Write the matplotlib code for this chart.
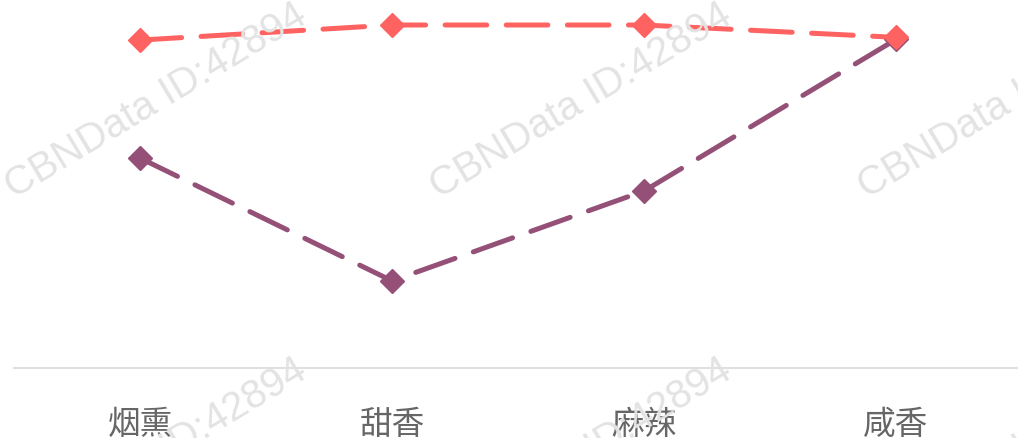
import matplotlib
matplotlib.use("Agg")
import matplotlib.pyplot as plt

plt.rcParams['font.family'] = ['Noto Sans CJK SC', 'DejaVu Sans']
plt.rcParams['lines.scale_dashes'] = False

# data (scale 0-100)
categories = ["烟熏", "甜香", "麻辣", "咸香"]
series_red = [95.6, 100.0, 100.0, 96.4]
series_purple = [61.2, 25.4, 51.6, 95.8]

W, H = 1018, 439
fig = plt.figure(figsize=(W / 100, H / 100), dpi=100)
fig.patch.set_facecolor("white")

# watermark
wm_text = "CBNData ID:42894"
for y0 in [199, 554]:
    for x0 in [14, 439, 867]:
        fig.text(x0 / W, 1 - y0 / H, wm_text, rotation=31, rotation_mode="anchor",
                 ha="left", va="baseline", fontsize=29, color="#e3e3e3",
                 family=["Liberation Sans", "DejaVu Sans"], zorder=0)

ax = fig.add_axes([14 / W, (H - 369) / H, 1008 / W, 343 / H])
ax.set_facecolor("none")
x = list(range(len(categories)))

ax.plot(x, series_purple, color="#955077", lw=3.6, dashes=(30, 14),
        dash_capstyle="round", marker="D", markersize=12, clip_on=False, zorder=3)
ax.plot(x, series_red, color="#ff6361", lw=3.6, dashes=(30, 14),
        dash_capstyle="round", marker="D", markersize=12, clip_on=False, zorder=4)

ax.set_xlim(-0.5, 3.5)
ax.set_ylim(0, 100)
ax.set_xticks(x)
ax.set_xticklabels(categories, fontsize=23.5, color="#666666")
ax.tick_params(axis="x", length=0, pad=29)
ax.set_yticks([])
for s in ["top", "right", "left"]:
    ax.spines[s].set_visible(False)
ax.spines["bottom"].set_color("#e0e0e0")
ax.spines["bottom"].set_linewidth(1.5)

fig.savefig("out.png", dpi=100)
